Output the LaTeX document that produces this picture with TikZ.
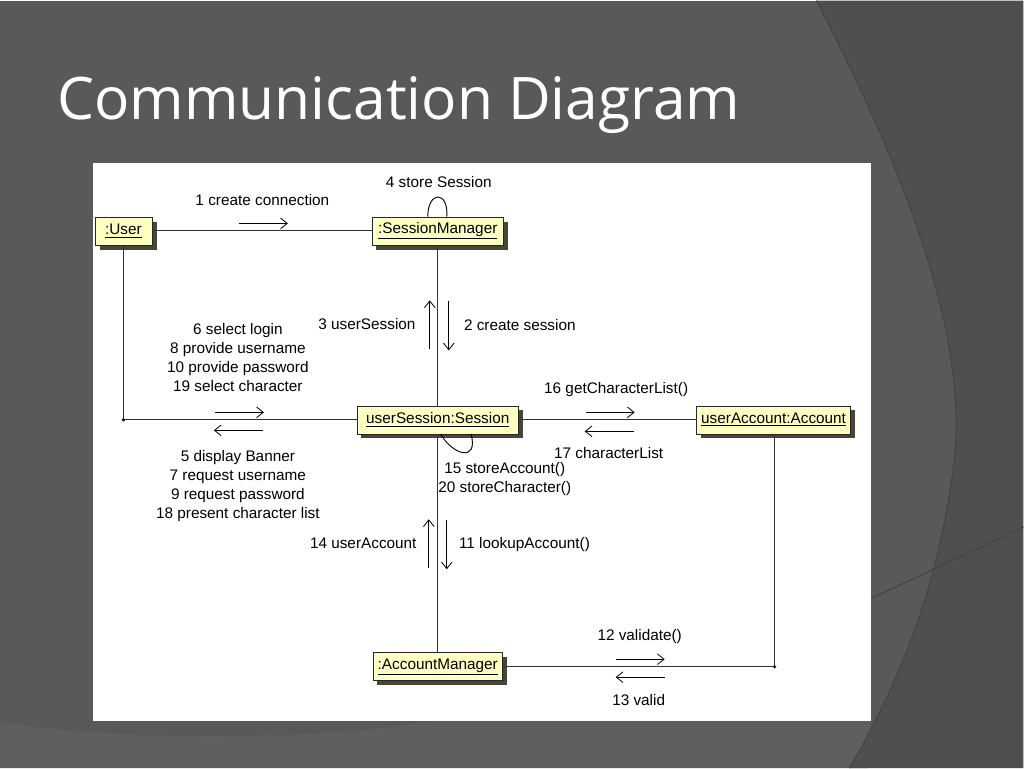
\documentclass[tikz,border=0pt]{standalone}
\usepackage{fontspec}
\setmainfont{Liberation Sans}
\newfontfamily\titlefont{Open Sans}
\usetikzlibrary{arrows.meta,shadows}
\definecolor{slidegray}{RGB}{89,89,89}
\definecolor{slidedark}{RGB}{79,79,79}
\definecolor{slidelight}{RGB}{95,95,95}
\definecolor{slideline}{RGB}{68,68,68}
\definecolor{objyellow}{RGB}{255,255,196}
\definecolor{objshadow}{RGB}{70,70,60}

\begin{document}
\begin{tikzpicture}[x=0.75pt,y=-0.75pt]
                \tikzstyle{obj}=[rectangle, draw=black!85, fill=objyellow, minimum height=21pt, inner xsep=3.5pt, font=\fontsize{11.5}{14}\selectfont, drop shadow={shadow xshift=3.5pt, shadow yshift=-3.5pt, fill=objshadow, opacity=1}]
                \tikzstyle{msg}=[font=\fontsize{11.5}{14.25}\selectfont, align=center, inner sep=0pt]
                \tikzstyle{link}=[draw=black!80, line width=0.8pt]
                \tikzstyle{flow}=[-{Straight Barb[length=5pt,width=8pt]}, line width=0.6pt]

                % slide background
                \fill[slidegray] (0,0) rectangle (1024,768);
                \fill[slidelight] (0,722) .. controls (120,742) and (330,740) .. (430,721) -- (871,721) -- (868,768) -- (0,768) -- cycle;
                \fill[slidedark] (817,0) .. controls (910,180) and (975,350) .. (952,480) .. controls (935,600) and (895,690) .. (850,768) -- (1024,768) -- (1024,0) -- cycle;
                \draw[slideline, line width=0.8pt] (817,0) .. controls (910,180) and (975,350) .. (952,480) .. controls (935,600) and (895,690) .. (850,768);
                \draw[slideline, line width=0.8pt] (872,598) -- (1024,527);
                \fill[white] (93,163) rectangle (871,721);
                \useasboundingbox (0,0) rectangle (1024,768);

                \node[anchor=base west, text=white, inner sep=0pt, font=\titlefont\fontsize{44}{50}\selectfont] (title) at (57,119) {Communication Diagram};

                % objects
                \node[obj, minimum width=42.75pt] (U) at (123.5,230.5) {\underline{:User}};
                \node[obj, minimum width=99pt] (SM) at (438,230.5) {\underline{:SessionManager}};
                \node[obj, minimum width=121.5pt] (S) at (438,419.5) {\underline{userSession:Session}};
                \node[obj, minimum width=115.5pt] (A) at (774,419.5) {\underline{userAccount:Account}};
                \node[obj, minimum width=97.5pt] (AM) at (438,666.5) {\underline{:AccountManager}};

                \coordinate (UC) at (123.5,419.5);
                \coordinate (AC) at (775,666.5);

                % links
                \draw[link] (U.east) -- (SM.west);
                \draw[link] (U.south) -- (UC) -- (S.west);
                \draw[link] (SM.south) -- (S.north);
                \draw[link] (S.east) -- (A.west);
                \draw[link] (S.south) -- (AM.north);
                \draw[link] (A.south -| AC) -- (AC) -- (AM.east);
                \fill (UC) circle (1.8);
                \fill (AC) circle (1.8);

                % self loops
                \draw[line width=0.7pt] ([xshift=-7.5pt]SM.north) .. controls (428,190) and (449,190) .. ([xshift=6.75pt]SM.north);
                \draw[line width=0.7pt] ([xshift=2.25pt]S.south) .. controls (452,454) and (479,463) .. ([xshift=25pt]S.south);

                % messages
                \node[msg] (m1) at (262.5,200) {1 create connection};
                \node[msg] (m4) at (439,182) {4 store Session};
                \node[msg, anchor=east] (m3) at (416,324) {3 userSession};
                \node[msg, anchor=west] (m2) at (464,325) {2 create session};
                \node[msg] (m6) at (238,357.5) {6 select login\\8 provide username\\10 provide password\\19 select character};
                \node[msg] (m5) at (238,485.5) {5 display Banner\\7 request username\\9 request password\\18 present character list};
                \node[msg] (m15) at (505,478.5) {15 storeAccount()\\20 storeCharacter()};
                \node[msg] (m16) at (616.5,389) {16 getCharacterList()};
                \node[msg] (m17) at (609,453) {17 characterList};
                \node[msg, anchor=east] (m14) at (417,543) {14 userAccount};
                \node[msg, anchor=west] (m11) at (459,544) {11 lookupAccount()};
                \node[msg] (m12) at (640,636) {12 validate()};
                \node[msg] (m13) at (639,700) {13 valid};

                % message arrows
                \coordinate (a1s) at (239,223);   \coordinate (a1e) at (288,223);
                \coordinate (a3s) at (430,349);   \coordinate (a3e) at (430,300);
                \coordinate (a2s) at (449,301);   \coordinate (a2e) at (449,350);
                \coordinate (a6s) at (215,412);   \coordinate (a6e) at (264,412);
                \coordinate (a5s) at (263,430);   \coordinate (a5e) at (214,430);
                \coordinate (a16s) at (586,412);  \coordinate (a16e) at (635,412);
                \coordinate (a17s) at (634,431);  \coordinate (a17e) at (585,431);
                \coordinate (a14s) at (429,568);  \coordinate (a14e) at (429,519);
                \coordinate (a11s) at (447,520);  \coordinate (a11e) at (447,569);
                \coordinate (a12s) at (616,659);  \coordinate (a12e) at (665,659);
                \coordinate (a13s) at (665,677);  \coordinate (a13e) at (616,677);

                \draw[flow] (a1s) -- (a1e);
                \draw[flow] (a3s) -- (a3e);
                \draw[flow] (a2s) -- (a2e);
                \draw[flow] (a6s) -- (a6e);
                \draw[flow] (a5s) -- (a5e);
                \draw[flow] (a16s) -- (a16e);
                \draw[flow] (a17s) -- (a17e);
                \draw[flow] (a14s) -- (a14e);
                \draw[flow] (a11s) -- (a11e);
                \draw[flow] (a12s) -- (a12e);
                \draw[flow] (a13s) -- (a13e);
            \end{tikzpicture}
\end{document}
